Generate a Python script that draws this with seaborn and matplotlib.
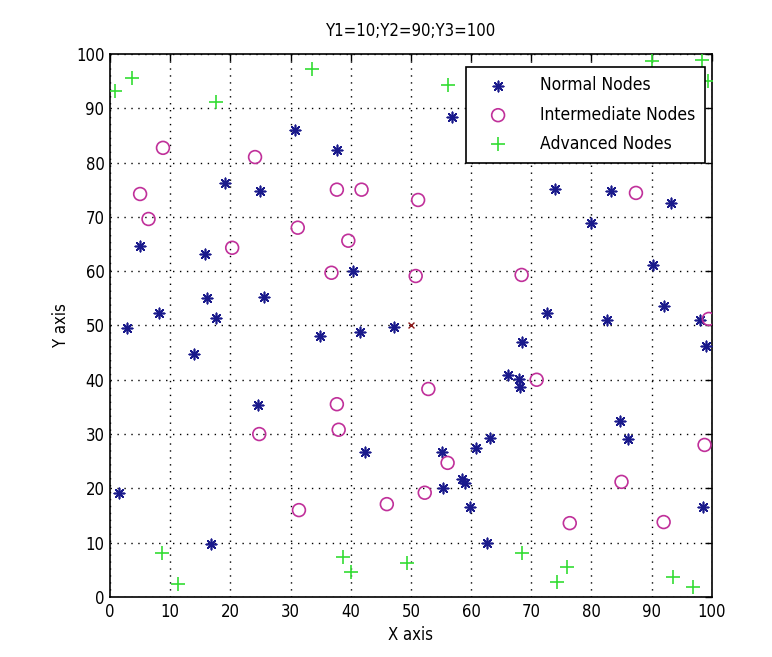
import matplotlib
matplotlib.use("Agg")
import matplotlib.pyplot as plt
import seaborn as sns
import pandas as pd

# Normal nodes
normal_x = [30.7, 37.7, 19.1, 24.9, 5.0, 15.8, 40.4, 16.1, 25.6, 8.2, 17.6, 2.9,
            34.9, 41.6, 47.2, 14.0, 24.6, 42.4, 1.5, 16.8, 56.8, 73.9, 83.3, 93.2,
            79.9, 90.2, 72.6, 82.6, 92.0, 98.0, 99.0, 68.4, 66.1, 68.0, 68.2, 84.7,
            86.0, 55.1, 60.8, 63.1, 55.3, 58.5, 59.0, 59.8, 62.6, 98.5]
normal_y = [86.0, 82.3, 76.2, 74.8, 64.6, 63.2, 60.0, 55.1, 55.2, 52.3, 51.4, 49.5,
            48.1, 48.8, 49.7, 44.8, 35.4, 26.7, 19.2, 9.8, 88.4, 75.1, 74.8, 72.6,
            68.9, 61.1, 52.3, 51.0, 53.6, 51.0, 46.2, 47.0, 40.9, 40.1, 38.7, 32.4,
            29.1, 26.7, 27.4, 29.3, 20.1, 21.7, 21.0, 16.6, 9.9, 16.6]

# Intermediate nodes
inter_x = [8.8, 24.1, 5.0, 6.4, 31.2, 37.7, 41.8, 51.2, 20.3, 39.6, 36.8, 50.8,
           52.9, 37.7, 68.4, 87.4, 99.5, 70.9, 24.8, 31.4, 38.0, 56.1, 52.3, 46.0,
           98.8, 85.0, 76.4, 92.0]
inter_y = [82.7, 81.0, 74.2, 69.6, 68.0, 75.0, 75.0, 73.1, 64.3, 65.6, 59.7, 59.1,
           38.3, 35.5, 59.3, 74.4, 51.2, 40.0, 30.0, 16.0, 30.8, 24.7, 19.2, 17.1,
           28.0, 21.2, 13.6, 13.8]

# Advanced nodes
adv_x = [0.8, 3.6, 17.6, 33.5, 56.2, 90.0, 98.3, 99.3, 8.6, 11.3, 38.7, 40.0,
         49.3, 68.4, 75.9, 74.2, 93.5, 96.8]
adv_y = [93.2, 95.6, 91.2, 97.2, 94.3, 98.7, 98.9, 95.0, 8.1, 2.4, 7.4, 4.6,
         6.3, 8.1, 5.5, 2.8, 3.7, 1.9]

# Sink
sink_x = [50.0]
sink_y = [50.0]

title_text = "Y1=10;Y2=90;Y3=100"
ticks = [0, 10, 20, 30, 40, 50, 60, 70, 80, 90, 100]

sns.set_style("white")
plt.rcParams['font.family'] = ['DejaVu Sans']
plt.rcParams['font.stretch'] = 'condensed'
plt.rcParams['text.color'] = 'black'
plt.rcParams['axes.labelcolor'] = 'black'
plt.rcParams['xtick.color'] = 'black'
plt.rcParams['ytick.color'] = 'black'

df_n = pd.DataFrame({"x": normal_x, "y": normal_y})
df_i = pd.DataFrame({"x": inter_x, "y": inter_y})
df_a = pd.DataFrame({"x": adv_x, "y": adv_y})
df_s = pd.DataFrame({"x": sink_x, "y": sink_y})

fig = plt.figure(figsize=(7.72, 6.57), dpi=100)
ax = fig.add_axes([0.1425, 0.0913, 0.7795, 0.8267])

sns.scatterplot(data=df_n, x="x", y="y", ax=ax, marker=(8, 2, 0), s=55,
                color="#1a1a8c", linewidth=1.2, edgecolor="#1a1a8c",
                label="Normal Nodes", zorder=3)
sns.scatterplot(data=df_i, x="x", y="y", ax=ax, marker="o", s=85,
                facecolors="none", edgecolor="#c0309a", linewidth=1.2,
                label="Intermediate Nodes", zorder=3)
sns.scatterplot(data=df_a, x="x", y="y", ax=ax, marker="+", s=110,
                color="#33dd33", linewidth=1.2,
                label="Advanced Nodes", zorder=3)
sns.scatterplot(data=df_s, x="x", y="y", ax=ax, marker="x", s=18,
                color="#8b1a1a", linewidth=1.0, legend=False, zorder=3)

ax.set_xlim(0, 100)
ax.set_ylim(0, 100)
ax.set_xticks(ticks)
ax.set_yticks(ticks)
ax.tick_params(direction="in", length=5, width=1, top=True, right=True,
               labelsize=12, colors="black", pad=4)
ax.grid(True, linestyle=(0, (1, 4)), color="black", linewidth=1.0)
for sp in ax.spines.values():
    sp.set_color("black")
    sp.set_linewidth(1.2)
ax.set_xlabel("X axis", fontsize=12, labelpad=4)
ax.set_ylabel("Y axis", fontsize=12, labelpad=4)
ax.set_title(title_text, fontsize=12, pad=13)

leg = ax.legend(loc="upper right", bbox_to_anchor=(0.988, 0.976), fontsize=12.5,
                frameon=True, fancybox=False, edgecolor="black", framealpha=1,
                borderaxespad=0.0, handlelength=2.6, handletextpad=1.1,
                borderpad=0.55, labelspacing=0.65)
leg.get_frame().set_linewidth(1.2)

fig.savefig("out.png", dpi=100)
